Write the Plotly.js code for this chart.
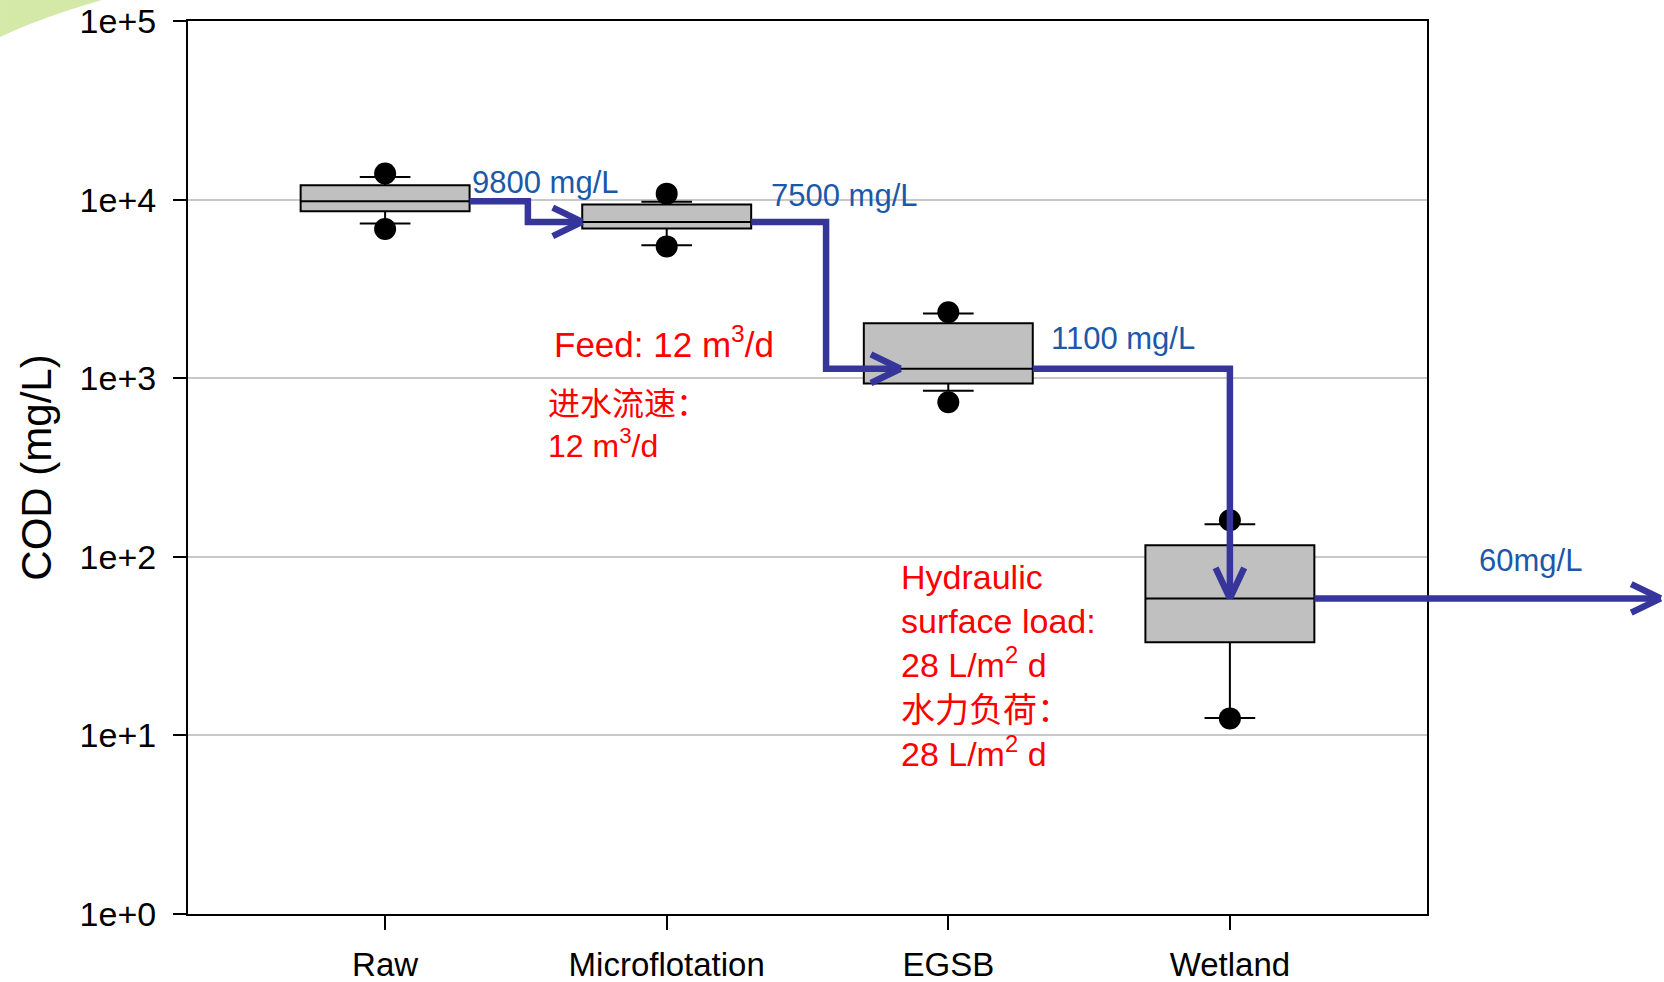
<!DOCTYPE html>
<html><head><meta charset="utf-8">
<script src="https://cdn.plot.ly/plotly-3.0.1.min.js"></script>
<style>html,body{margin:0;padding:0;background:#fff}</style>
</head><body><div id="chart" style="width:1664px;height:982px"></div>
<script>
// ---- data ----
const categories = ['Raw', 'Microflotation', 'EGSB', 'Wetland'];
const q1Values = [8600, 6900, 935, 33.2];
const medianValues = [9800, 7500, 1130, 58.5];
const q3Values = [12050, 9400, 2030, 116];
const lowerWhiskerValues = [7350, 5560, 850, 12.5];
const upperWhiskerValues = [13400, 9720, 2300, 152];
const highOutlierValues = [14000, 10800, 2340, 160];
const lowOutlierValues = [6850, 5470, 733, 12.45];
const flowLabels = ['9800 mg/L', '7500 mg/L', '1100 mg/L', '60mg/L'];
const yTickValues = [1, 10, 100, 1000, 10000, 100000];
const yTickLabels = ['1e+0', '1e+1', '1e+2', '1e+3', '1e+4', '1e+5'];

// ---- layout constants ----
const idx = categories.map((c, i) => i);
const xRange = [-0.7, 3.7];
const boxWidth = 0.6;
const hw = boxWidth / 2;
const flowColor = '#35359a';
const flowWidth = 6.5;
const blue = '#1c58a8';
const red = '#ff0000';
const turnX = [0.507, 1.566, 3.0];
const tipX = [0.7, 1.83, 3.0];
const exitX = 4.53;
const toPaperX = x => (x - xRange[0]) / (xRange[1] - xRange[0]);
const L = Math.log10;

const traces = [];
traces.push({
  type: 'box', x: idx, q1: q1Values, median: medianValues, q3: q3Values,
  lowerfence: lowerWhiskerValues, upperfence: upperWhiskerValues,
  width: boxWidth, whiskerwidth: 0.3, boxpoints: false,
  fillcolor: '#c0c0c0', line: {color: '#000', width: 2},
  hoverinfo: 'skip', showlegend: false
});
traces.push({
  type: 'scatter', mode: 'markers',
  x: idx.concat(idx), y: highOutlierValues.concat(lowOutlierValues),
  marker: {color: '#000', size: 22}, hoverinfo: 'skip', showlegend: false
});
for (let i = 0; i < 3; i++) {
  traces.push({
    type: 'scatter', mode: 'lines',
    x: [i + hw, turnX[i], turnX[i], tipX[i]],
    y: [medianValues[i], medianValues[i], medianValues[i + 1], medianValues[i + 1]],
    line: {color: flowColor, width: flowWidth},
    hoverinfo: 'skip', showlegend: false
  });
}

const annotations = [];
function arm(opts) {
  annotations.push(Object.assign({
    text: '', showarrow: true, arrowhead: 0, arrowwidth: flowWidth,
    arrowcolor: flowColor, standoff: 0, startstandoff: 0
  }, opts));
}
// chevrons
for (let i = 0; i < 2; i++) {
  [-15, 15].forEach(dy => arm({xref: 'x', yref: 'y', x: tipX[i], y: L(medianValues[i + 1]), ax: -31, ay: dy}));
}
[-15, 15].forEach(dx => arm({xref: 'x', yref: 'y', x: tipX[2], y: L(medianValues[3]), ax: dx, ay: -32}));
// exit line
arm({xref: 'x', yref: 'y', x: 3 + hw, y: L(medianValues[3]), axref: 'x', ayref: 'y', ax: exitX, ay: L(medianValues[3])});
[-15, 15].forEach(dy => arm({xref: 'paper', yref: 'y', x: toPaperX(exitX), y: L(medianValues[3]), ax: -31, ay: dy}));

// flow labels
const flowLabelPos = [
  {xref: 'x', x: 0.303, y: 4.098},
  {xref: 'x', x: 1.362, y: 4.022},
  {xref: 'x', x: 2.357, y: 3.222},
  {xref: 'paper', x: 1.0405, y: 1.977}
];
flowLabels.forEach((t, i) => annotations.push({
  text: t, xref: flowLabelPos[i].xref, yref: 'y', x: flowLabelPos[i].x, y: flowLabelPos[i].y,
  xanchor: 'left', yanchor: 'middle', showarrow: false,
  font: {size: 31, color: blue}
}));
// red notes
annotations.push({
  text: 'Feed: 12 m<sup>3</sup>/d', xref: 'x', yref: 'y', x: 0.592, y: 3.205,
  xanchor: 'left', yanchor: 'middle', showarrow: false, font: {size: 35, color: red}
});
annotations.push({
  text: '<span style="font-family:Noto Sans CJK SC">进水流速：</span><br>12 m<sup>3</sup>/d',
  xref: 'x', yref: 'y', x: 0.571, y: 2.762, align: 'left',
  xanchor: 'left', yanchor: 'middle', showarrow: false, font: {size: 32, color: red}
});
annotations.push({
  text: 'Hydraulic<br>surface load:<br>28 L/m<sup>2</sup> d<br><span style="font-family:Noto Sans CJK SC">水力负荷：</span><br>28 L/m<sup>2</sup> d',
  xref: 'x', yref: 'y', x: 1.826, y: 1.393, align: 'left',
  xanchor: 'left', yanchor: 'middle', showarrow: false, font: {size: 34, color: red}
});

// decorative green corner (paper coords)
const W = 1664, H = 982, ml = 188, mr = 237, mt = 21, mb = 68;
const pw = W - ml - mr, ph = H - mt - mb;
const px = v => ((v - ml) / pw).toFixed(4);
const py = v => ((H - mb - v) / ph).toFixed(4);
const greenPath = `M ${px(0)} ${py(0)} L ${px(102)} ${py(0)} Q ${px(40)} ${py(18)} ${px(0)} ${py(37)} Z`;

const layout = {
  width: W, height: H,
  margin: {l: ml, r: mr, t: mt, b: mb, pad: 0},
  paper_bgcolor: '#fff', plot_bgcolor: '#fff',
  showlegend: false, hovermode: false,
  font: {family: 'Liberation Sans, Arial, sans-serif', color: '#000'},
  xaxis: {
    range: xRange, tickvals: idx, ticktext: categories,
    ticks: 'outside', ticklen: 14, tickwidth: 2, tickcolor: '#000',
    showline: true, linecolor: '#000', linewidth: 2, mirror: true,
    showgrid: false, zeroline: false, tickfont: {size: 33}, ticklabelstandoff: 6,
    automargin: false
  },
  yaxis: {
    type: 'log', range: [0, 5], tickvals: yTickValues, ticktext: yTickLabels,
    ticks: 'outside', ticklen: 13, tickwidth: 2, tickcolor: '#000',
    showline: true, linecolor: '#000', linewidth: 2, mirror: true,
    showgrid: true, gridcolor: '#c8c8c8', gridwidth: 2, zeroline: false,
    tickfont: {size: 34}, ticklabelstandoff: 10,
    title: {text: 'COD (mg/L)', font: {size: 42}, standoff: 15},
    automargin: false
  },
  shapes: [{type: 'path', xref: 'paper', yref: 'paper', path: greenPath,
            fillcolor: '#d4e9a8', line: {width: 0}, layer: 'below'}],
  annotations: annotations
};

Plotly.newPlot('chart', traces, layout, {displayModeBar: false, staticPlot: true});
</script></body></html>
